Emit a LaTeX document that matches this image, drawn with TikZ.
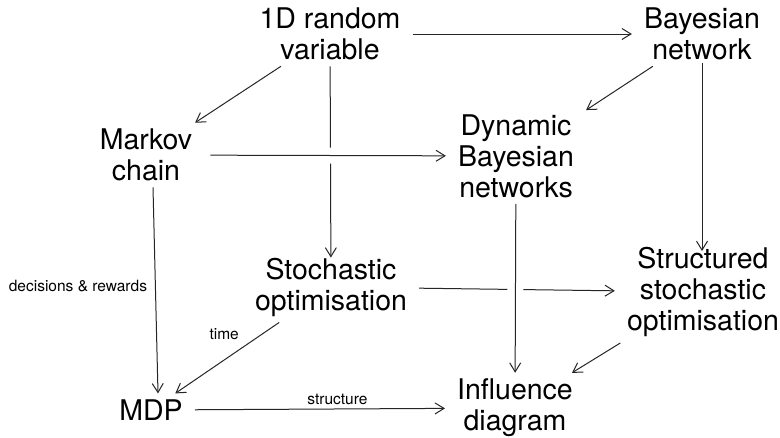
\documentclass[tikz,border=0pt]{standalone}
\usepackage{fontspec}
\setmainfont{TeX Gyre Heros}
\usetikzlibrary{arrows.meta}
\begin{document}
\begin{tikzpicture}[x=1pt,y=-1pt,
  lbl/.style={font=\fontsize{28.5}{31}\selectfont, align=center, inner xsep=12pt, inner ysep=6pt},
  small/.style={font=\fontsize{15.5}{17}\selectfont, inner sep=2pt},
  arr/.style={draw=black!85, line width=1pt,
    -{Straight Barb[length=9pt,width=11pt,line width=1pt]}},
  halo/.style={preaction={draw=white, line width=16pt, arrows=-}}]
\fill[white] (0,0) rectangle (780,437);
\useasboundingbox (0,0) rectangle (780,437);

% concepts
\node[lbl] (rv)  at (330,34)  {1D random\\variable};
\node[lbl] (bn)  at (702,34)  {Bayesian\\network};
\node[lbl] (mc)  at (146,155) {Markov\\chain};
\node[lbl] (dbn) at (516,156) {Dynamic\\Bayesian\\networks};
\node[lbl] (so)  at (331,287) {Stochastic\\optimisation};
\node[lbl] (sso) at (703,292) {Structured\\stochastic\\optimisation};
\node[lbl] (mdp) at (151,410) {MDP};
\node[lbl] (id)  at (515,408) {Influence\\diagram};

% back lines first, so the front ones can cut gaps in them
\draw[arr, shorten >=-6pt] (rv) -- (so);
\draw[arr] (so) -- (sso);

\draw[arr] (rv) -- (bn);
\draw[arr] (rv) -- (mc);
\draw[arr] (bn) -- (dbn);
\draw[arr, shorten <=-3pt, shorten >=-10pt] (bn) -- (bn |- sso.north);
\draw[arr, halo, shorten <=6pt] (mc) -- (dbn);
\draw[arr] ([xshift=7pt]mc.south) -- node[small, left=6pt, yshift=4pt] {decisions \& rewards} ([xshift=7pt]mdp.north);
\draw[arr, halo] (dbn) -- (id);
\draw[arr] (so) -- node[small, pos=0.5, above=16pt, xshift=-3pt] {time} (mdp);
\draw[arr] (sso) -- (id);
\draw[arr] (mdp) -- node[small, pos=0.57, above=2pt] {structure} (id);
\end{tikzpicture}
\end{document}
